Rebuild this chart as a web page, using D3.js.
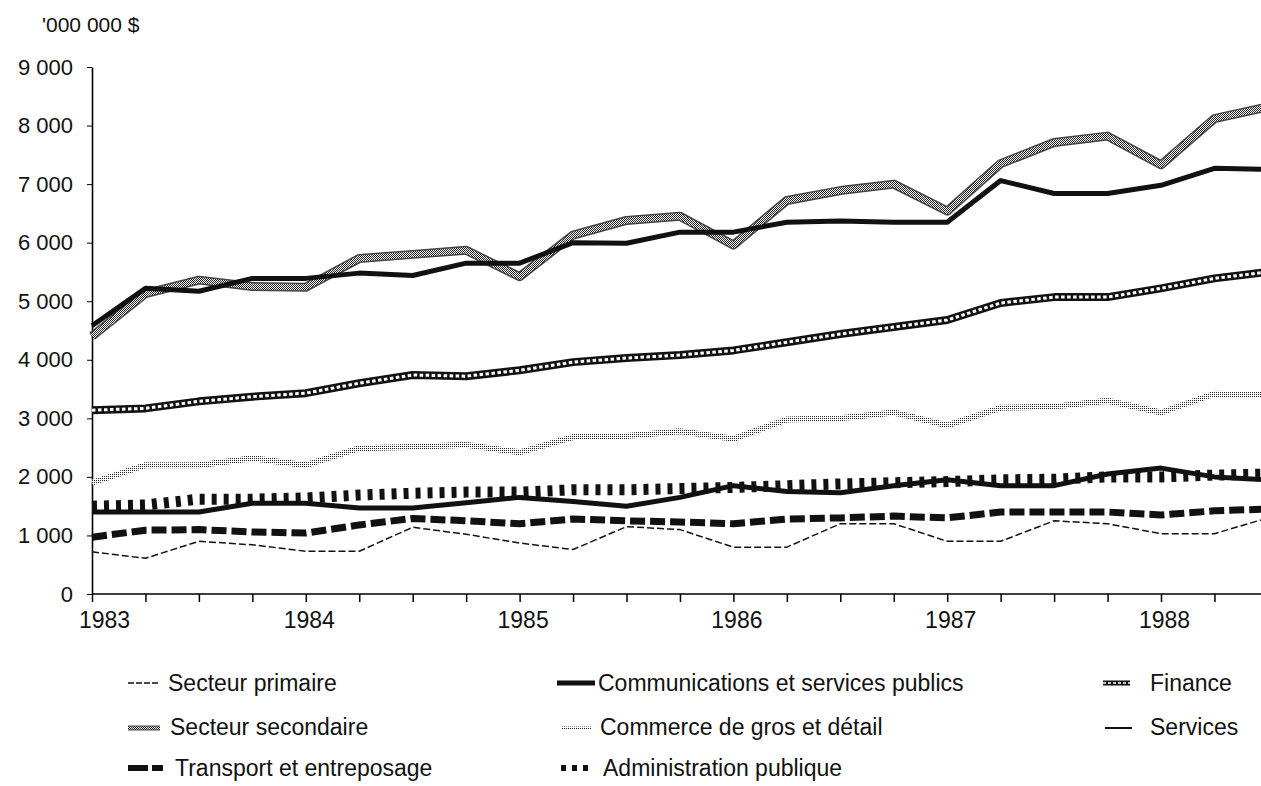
<!DOCTYPE html>
<html>
<head>
<meta charset="utf-8">
<script src="https://cdn.jsdelivr.net/npm/d3@7"></script>
<style>
  body { margin: 0; background: #fff; }
  text { font-family: "Liberation Sans", Arial, sans-serif; fill: #111; }
</style>
</head>
<body>
<svg id="chart"></svg>
<script>
// quarters, 1983 T1 .. 1988 T3
var quarters = ["1983 T1","1983 T2","1983 T3","1983 T4",
                "1984 T1","1984 T2","1984 T3","1984 T4",
                "1985 T1","1985 T2","1985 T3","1985 T4",
                "1986 T1","1986 T2","1986 T3","1986 T4",
                "1987 T1","1987 T2","1987 T3","1987 T4",
                "1988 T1","1988 T2","1988 T3"];
var yTicks = [0, 1000, 2000, 3000, 4000, 5000, 6000, 7000, 8000, 9000];

// values in '000 000 $
var secondaire = [4400, 5130, 5360, 5250, 5240, 5730, 5800, 5870, 5420, 6130, 6380, 6450,
                  5960, 6720, 6890, 7000, 6540, 7350, 7710, 7820, 7330, 8120, 8320];
var services = [4580, 5220, 5170, 5390, 5390, 5480, 5440, 5650, 5650, 6000, 5990, 6180,
                6180, 6350, 6370, 6350, 6350, 7060, 6840, 6840, 6980, 7270, 7250];
var finance = [3140, 3170, 3290, 3370, 3430, 3600, 3740, 3720, 3820, 3960, 4030, 4080,
               4160, 4300, 4440, 4560, 4680, 4970, 5070, 5070, 5220, 5390, 5500];
var commerce = [1900, 2200, 2200, 2320, 2200, 2490, 2510, 2550, 2420, 2680, 2700, 2780,
                2650, 2980, 3000, 3100, 2880, 3180, 3200, 3300, 3100, 3420, 3400];
var administration = [1500, 1520, 1620, 1620, 1640, 1690, 1720, 1740, 1740, 1780, 1780, 1800,
                      1820, 1850, 1880, 1900, 1920, 1950, 1960, 2000, 2000, 2030, 2050];
var communications = [1400, 1400, 1400, 1550, 1550, 1470, 1470, 1560, 1650, 1580, 1500, 1650,
                      1850, 1750, 1730, 1850, 1950, 1850, 1850, 2050, 2150, 2000, 1950];
var transport = [970, 1090, 1100, 1060, 1040, 1180, 1290, 1250, 1200, 1280, 1250, 1230,
                 1200, 1280, 1300, 1330, 1300, 1400, 1400, 1400, 1350, 1420, 1450];
var primaire = [720, 610, 900, 840, 730, 730, 1140, 1020, 870, 760, 1150, 1100,
                800, 800, 1200, 1200, 900, 900, 1250, 1200, 1030, 1030, 1300];

var width = 1261, height = 786;
var svg = d3.select("#chart").attr("width", width).attr("height", height);

var defs = svg.append("defs");
var p1 = defs.append("pattern").attr("id", "checker")
    .attr("width", 2).attr("height", 2).attr("patternUnits", "userSpaceOnUse");
p1.append("rect").attr("width", 2).attr("height", 2).attr("fill", "#fff");
p1.append("rect").attr("width", 1).attr("height", 1).attr("fill", "#222");
p1.append("rect").attr("x", 1).attr("y", 1).attr("width", 1).attr("height", 1).attr("fill", "#222");
var p2 = defs.append("pattern").attr("id", "dots")
    .attr("width", 2).attr("height", 2).attr("patternUnits", "userSpaceOnUse");
p2.append("rect").attr("width", 2).attr("height", 2).attr("fill", "#fff");
p2.append("rect").attr("width", 1).attr("height", 1).attr("fill", "#222");

var x = d3.scalePoint().domain(quarters).range([92, 92 + 22 * 53.45]);
var y = d3.scaleLinear().domain([0, 9000]).range([594, 67]);

var loc = d3.formatLocale({decimal: ",", thousands: " ", grouping: [3], currency: ["", " $"]});
var fmt = loc.format(",");

// axes
var xAxis = svg.append("g").attr("transform", "translate(0," + 594 + ")")
    .call(d3.axisBottom(x).tickSizeOuter(0).tickSize(8).tickPadding(10)
        .tickFormat(function (d) { return d.slice(-2) == "T1" ? d.slice(0, 4) : ""; }));
xAxis.select(".domain").attr("d", "M92,0H" + width).attr("stroke-width", 1.6);
xAxis.selectAll("line").attr("stroke-width", 1.5);
xAxis.selectAll("text").attr("font-size", 23).attr("fill", "#111")
    .attr("dx", function (d, i) { return i == 0 ? 12 : 3; });

var yAxis = svg.append("g").attr("transform", "translate(92,0)")
    .call(d3.axisLeft(y).tickValues(yTicks).tickSize(5).tickSizeOuter(0).tickPadding(14).tickFormat(fmt));
yAxis.select(".domain").attr("stroke-width", 1.6);
yAxis.selectAll("text").attr("font-size", 22).attr("fill", "#111");

svg.append("text").attr("x", 42).attr("y", 32).attr("font-size", 21).text("'000 000 $");

var line = d3.line()
    .x(function (d, i) { return x(quarters[i]); })
    .y(function (d) { return y(d); });

function draw(values, strokes) {
    strokes.forEach(function (s) {
        svg.append("path").datum(values)
            .attr("d", line)
            .attr("fill", "none")
            .attr("stroke", s.c)
            .attr("stroke-width", s.w)
            .attr("stroke-dasharray", s.dash || null)
            .attr("stroke-linejoin", "round");
    });
}

var styles = {
    primaire: [{c: "#111", w: 1.5, dash: "7 3"}],
    transport: [{c: "#111", w: 7, dash: "15 5"}],
    communications: [{c: "#111", w: 5}],
    administration: [{c: "#111", w: 11, dash: "5 7"}],
    commerce: [{c: "url(#dots)", w: 6}],
    finance: [{c: "#111", w: 8}, {c: "#fff", w: 3, dash: "3.5 2.5"}],
    secondaire: [{c: "#444", w: 9}, {c: "url(#checker)", w: 6}],
    services: [{c: "#111", w: 5}]
};

draw(primaire, styles.primaire);
draw(transport, styles.transport);
draw(commerce, styles.commerce);
draw(communications, styles.communications);
draw(administration, styles.administration);
draw(finance, styles.finance);
draw(secondaire, styles.secondaire);
draw(services, styles.services);

// legend
var legend = [
    {name: "Secteur primaire", x0: 128, x1: 160, tx: 168, row: 0,
        st: [{c: "#111", w: 1.5, dash: "6 2"}]},
    {name: "Secteur secondaire", x0: 128, x1: 160, tx: 170, row: 1,
        st: [{c: "#444", w: 5}, {c: "url(#checker)", w: 3}]},
    {name: "Transport et entreposage", x0: 128, x1: 163, tx: 175, row: 2,
        st: [{c: "#111", w: 6, dash: "20 4"}]},
    {name: "Communications et services publics", x0: 557, x1: 595, tx: 598, row: 0,
        st: [{c: "#111", w: 5}]},
    {name: "Commerce de gros et détail", x0: 561, x1: 592, tx: 600, row: 1,
        st: [{c: "url(#dots)", w: 3}]},
    {name: "Administration publique", x0: 561, x1: 590, tx: 603, row: 2,
        st: [{c: "#111", w: 6, dash: "5 6"}]},
    {name: "Finance", x0: 1103, x1: 1130, tx: 1150, row: 0,
        st: [{c: "#111", w: 5}, {c: "#fff", w: 1.5, dash: "3 2"}]},
    {name: "Services", x0: 1105, x1: 1132, tx: 1150, row: 1,
        st: [{c: "#111", w: 2}]}
];
var rowY = [683, 728, 768];
var rowBase = [691, 735, 776];

legend.forEach(function (d) {
    d.st.forEach(function (s) {
        svg.append("line")
            .attr("x1", d.x0).attr("x2", d.x1)
            .attr("y1", rowY[d.row]).attr("y2", rowY[d.row])
            .attr("stroke", s.c).attr("stroke-width", s.w)
            .attr("stroke-dasharray", s.dash || null);
    });
    svg.append("text").attr("x", d.tx).attr("y", rowBase[d.row])
        .attr("font-size", 23).text(d.name);
});
</script>
</body>
</html>
